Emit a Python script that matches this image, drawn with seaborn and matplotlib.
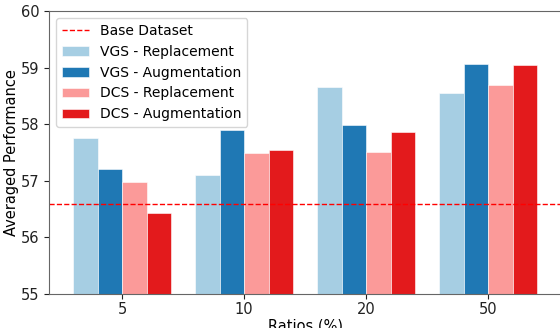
import pandas as pd
import seaborn as sns
import matplotlib.pyplot as plt

# data
ratios = ['5', '10', '20', '50']
vgs_replacement = [57.76, 57.10, 58.66, 58.56]
vgs_augmentation = [57.20, 57.90, 57.99, 59.06]
dcs_replacement = [56.97, 57.49, 57.51, 58.69]
dcs_augmentation = [56.43, 57.54, 57.87, 59.04]
base_dataset = 56.59

methods = ['VGS - Replacement', 'VGS - Augmentation', 'DCS - Replacement', 'DCS - Augmentation']
method_colours = {
    'VGS - Replacement': '#a6cee3',
    'VGS - Augmentation': '#1f78b4',
    'DCS - Replacement': '#fb9a99',
    'DCS - Augmentation': '#e31a1c',
}

df = pd.DataFrame({
    'Ratio': ratios * 4,
    'Method': [m for m in methods for _ in ratios],
    'Score': vgs_replacement + vgs_augmentation + dcs_replacement + dcs_augmentation,
})

plt.rcParams['font.family'] = ['DejaVu Sans']
plt.rcParams['font.size'] = 10

fig = plt.figure(figsize=(5.6, 3.28), dpi=100)
ax = fig.add_axes([0.0875, 0.104, 0.915, 0.862])

sns.barplot(
    data=df, x='Ratio', y='Score', hue='Method',
    order=ratios, hue_order=methods, palette=method_colours,
    saturation=1, width=0.8, edgecolor='white', linewidth=0.4,
    ax=ax,
)
ax.axhline(base_dataset, color='red', linestyle='--', linewidth=1, label='Base Dataset')

ax.set_ylim(55, 60)
ax.set_xlim(-0.6, 3.6)
ax.set_xlabel('Ratios (%)', fontsize=10.5, labelpad=1)
ax.set_ylabel('Averaged Performance', fontsize=10.5, labelpad=1)
for s in ax.spines.values():
    s.set_color('#666666')
ax.tick_params(colors='#222222', labelsize=10.5)
ax.tick_params(axis='x', pad=2.5)

handles, labels = ax.get_legend_handles_labels()
order = [labels.index('Base Dataset')] + [labels.index(m) for m in methods]
ax.legend([handles[i] for i in order], [labels[i] for i in order], loc='upper left')

fig.savefig('out.png', dpi=100)
